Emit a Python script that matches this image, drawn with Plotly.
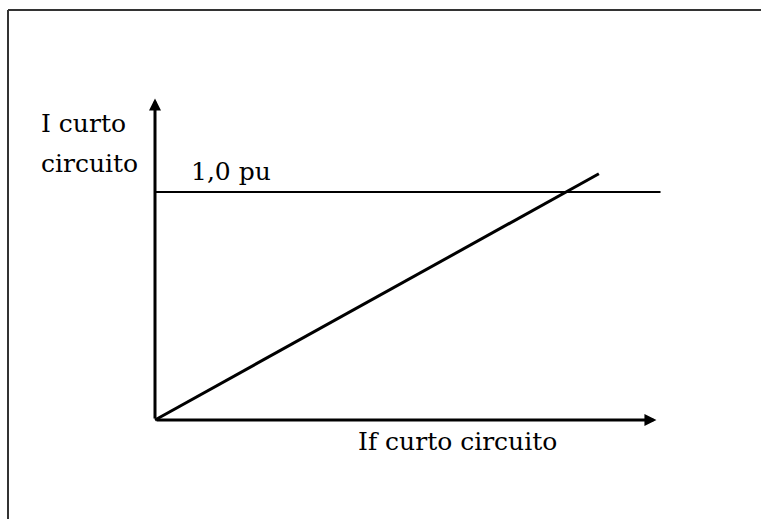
import plotly.graph_objects as go

# Data (per-unit)
if_cc = [0.0, 1.08]          # If curto circuito
i_cc = [0.0, 1.08]           # I curto circuito
pu_line_x = [0.0, 1.23]
pu_line_y = [1.0, 1.0]
x_axis_end = 1.22
y_axis_end = 1.41

W, H = 761, 519
fig = go.Figure()

fig.add_trace(go.Scatter(x=pu_line_x, y=pu_line_y, mode="lines",
                         line=dict(color="black", width=2), hoverinfo="skip"))
fig.add_trace(go.Scatter(x=if_cc, y=i_cc, mode="lines",
                         line=dict(color="black", width=3), hoverinfo="skip"))

font = dict(family="DejaVu Serif", size=25, color="black")
annotations = [
    # axes arrows
    dict(x=x_axis_end, y=0, ax=0, ay=0, xref="x", yref="y", axref="x", ayref="y",
         text="", showarrow=True, arrowhead=2, arrowsize=0.8, arrowwidth=3,
         arrowcolor="black", standoff=0, startstandoff=0),
    dict(x=0, y=y_axis_end, ax=0, ay=0, xref="x", yref="y", axref="x", ayref="y",
         text="", showarrow=True, arrowhead=2, arrowsize=0.8, arrowwidth=3,
         arrowcolor="black", standoff=0, startstandoff=0),
    # labels
    dict(x=-0.282, y=(420 - 123) / 228, xref="x", yref="y", text="I curto",
         showarrow=False, xanchor="left", yanchor="middle", font=font),
    dict(x=-0.282, y=(420 - 163) / 228, xref="x", yref="y", text="circuito",
         showarrow=False, xanchor="left", yanchor="middle", font=font),
    dict(x=0.083, y=(420 - 171) / 228, xref="x", yref="y", text="1,0 pu",
         showarrow=False, xanchor="left", yanchor="middle", font=font),
    dict(x=0.49, y=(420 - 441) / 228, xref="x", yref="y", text="If curto circuito",
         showarrow=False, xanchor="left", yanchor="middle", font=font),
]

shapes = [
    dict(type="line", xref="paper", yref="paper", x0=8 / W, x1=1, y0=1 - 10 / H, y1=1 - 10 / H,
         line=dict(color="#333333", width=2)),
    dict(type="line", xref="paper", yref="paper", x0=8 / W, x1=8 / W, y0=0, y1=1 - 10 / H,
         line=dict(color="#333333", width=2)),
]

fig.update_layout(
    width=W, height=H,
    margin=dict(l=0, r=0, t=0, b=0),
    paper_bgcolor="white", plot_bgcolor="white",
    showlegend=False,
    annotations=annotations,
    shapes=shapes,
    xaxis=dict(range=[-155 / 411, (761 - 155) / 411], visible=False, fixedrange=True),
    yaxis=dict(range=[-(519 - 420) / 228, 420 / 228], visible=False, fixedrange=True),
)

fig.write_html("out.html", config={"displayModeBar": False},
               post_script="document.body.style.margin='0';document.body.style.overflow='hidden';")
